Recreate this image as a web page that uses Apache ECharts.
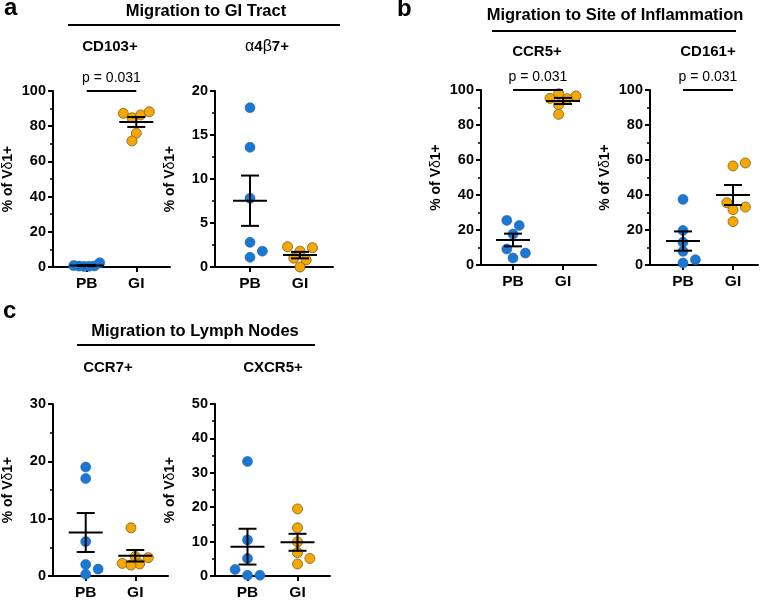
<!DOCTYPE html>
<html>
<head>
<meta charset="utf-8">
<script src="https://cdn.jsdelivr.net/npm/echarts@6/dist/echarts.min.js"></script>
<style>
  html, body { margin: 0; padding: 0; background: #fff; }
  #chart { width: 763px; height: 601px; }
</style>
</head>
<body>
<div id="chart"></div>
<script>
// values (% of Vd1+ cells, one value per donor)
const groups = ['PB', 'GI'];
const cd103PB = [0.3, 0.5, 0.6, 0.8, 0.4, 2.4];
const cd103GI = [87.3, 84.8, 86.4, 88.2, 76.0, 71.6];
const a4b7PB = [18.1, 13.6, 7.8, 2.8, 1.8, 1.1];
const a4b7GI = [2.2, 2.3, 1.8, 1.0, 0.8, 0.0];
const ccr5PB = [25.5, 22.6, 17.7, 9.1, 6.8, 4.0];
const ccr5GI = [96.6, 95.0, 95.2, 97.9, 91.6, 86.1];
const cd161PB = [37.5, 19.7, 13.0, 7.8, 3.0, 1.1];
const cd161GI = [58.3, 56.6, 35.6, 31.6, 33.1, 24.8];
const ccr7PB = [19.0, 17.0, 6.0, 2.0, 1.2, 0.3];
const ccr7GI = [8.4, 3.4, 3.2, 2.1, 2.2, 1.9];
const cxcr5PB = [33.3, 10.5, 5.1, 1.9, 0.2, 0.2];
const cxcr5GI = [19.5, 14.0, 9.9, 6.8, 5.1, 3.5];

const markers = ['CD103+', '{g|α}4{g|β}7+', 'CCR5+', 'CD161+', 'CCR7+', 'CXCR5+'];
const yMax = [100, 20, 100, 100, 30, 50];
const yStep = [20, 5, 20, 20, 10, 10];
const pValues = ['p = 0.031', null, 'p = 0.031', 'p = 0.031', null, null];
const pbSets = [cd103PB, a4b7PB, ccr5PB, cd161PB, ccr7PB, cxcr5PB];
const giSets = [cd103GI, a4b7GI, ccr5GI, cd161GI, ccr7GI, cxcr5GI];

// panel placement
const panels = [
  { left: 52, top: 91, width: 118, height: 176, xMin: 0.32, tx: 110, ty: 47 },
  { left: 215, top: 91, width: 118, height: 176, xMin: 0.30, tx: 267, ty: 47 },
  { left: 481, top: 90, width: 115, height: 175, xMin: 0.36, tx: 537, ty: 52 },
  { left: 650, top: 90, width: 108, height: 175, xMin: 0.34, tx: 708, ty: 52 },
  { left: 52, top: 404, width: 116, height: 174, xMin: 0.34, tx: 108, ty: 368 },
  { left: 215, top: 404, width: 115, height: 174, xMin: 0.35, tx: 273, ty: 368 }
];

const FONT = '"Liberation Sans", Arial, Helvetica, sans-serif';
const BLUE = '#1a78d2';
const ORANGE = '#f6a800';

function meanSem(a) {
  const n = a.length;
  const m = a.reduce((s, v) => s + v, 0) / n;
  const sd = Math.sqrt(a.reduce((s, v) => s + (v - m) * (v - m), 0) / (n - 1));
  return [m, sd / Math.sqrt(n)];
}

// simple beeswarm: horizontal pixel offsets so dots don't pile up
function swarm(vals, pxPerUnit) {
  const order = vals.map((v, i) => i).sort((a, b) => vals[a] - vals[b]);
  const placed = [];
  const dx = vals.map(() => 0);
  const step = 6.2, minD = 9;
  order.forEach(i => {
    const y = vals[i] * pxPerUnit;
    for (let k = 0; k < 40; k++) {
      const off = k === 0 ? 0 : (k % 2 ? 1 : -1) * Math.ceil(k / 2) * step;
      if (placed.every(p => Math.hypot(p.x - off, p.y - y) >= minD)) {
        dx[i] = off;
        placed.push({ x: off, y: y });
        break;
      }
    }
  });
  const lo = Math.min(...dx), hi = Math.max(...dx);
  if (hi - lo > 26) {
    const s = 26 / (hi - lo), mid = (hi + lo) / 2;
    return dx.map(d => (d - mid) * s);
  }
  return dx;
}

const grid = [], xAxis = [], yAxis = [], series = [];
const graphic = [];

panels.forEach((p, i) => {
  grid.push({ left: p.left, top: p.top, width: p.width, height: p.height });
  xAxis.push({
    type: 'value', gridIndex: i,
    min: p.xMin, max: p.xMin + p.width / 50,
    splitLine: { show: false },
    axisLine: { show: true, onZero: false, lineStyle: { color: '#000', width: 2 } },
    axisTick: { show: true, customValues: [1, 2], length: 5, lineStyle: { color: '#000', width: 2 } },
    axisLabel: {
      show: true, customValues: [1, 2], margin: 9,
      formatter: v => groups[Math.round(v) - 1],
      color: '#000', fontWeight: 'bold', fontSize: 15.5, fontFamily: FONT
    }
  });
  yAxis.push({
    type: 'value', gridIndex: i,
    min: 0, max: yMax[i], interval: yStep[i],
    name: '% of V{d|δ}1+', nameLocation: 'middle', nameGap: 38,
    nameTextStyle: {
      color: '#000', fontWeight: 'bold', fontSize: 14, fontFamily: FONT,
      rich: { d: { fontWeight: 'normal', fontSize: 14, fontFamily: FONT } }
    },
    splitLine: { show: false },
    axisLine: { show: true, onZero: false, lineStyle: { color: '#000', width: 2 } },
    axisTick: { show: true, length: 5, lineStyle: { color: '#000', width: 2 } },
    minorTick: { show: true, splitNumber: 2, length: 3, lineStyle: { color: '#000', width: 1.5 } },
    axisLabel: { margin: 7, color: '#000', fontWeight: 'bold', fontSize: 14.5, fontFamily: FONT }
  });

  const pxPerUnit = p.height / yMax[i];
  [pbSets[i], giSets[i]].forEach((vals, g) => {
    const dx = swarm(vals, pxPerUnit);
    series.push({
      type: 'scatter', xAxisIndex: i, yAxisIndex: i,
      symbolSize: 10,
      itemStyle: g === 0
        ? { color: BLUE, borderColor: '#2a62a8', borderWidth: 0.6, opacity: 1 }
        : { color: ORANGE, borderColor: '#86692c', borderWidth: 0.9, opacity: 1 },
      data: vals.map((v, k) => ({ value: [g + 1, v], symbolOffset: [dx[k], 0] })),
      z: 2
    });
  });

  const stats = [pbSets[i], giSets[i]].map((vals, g) => {
    const ms = meanSem(vals);
    return [g + 1, ms[0], ms[0] - ms[1], ms[0] + ms[1]];
  });
  const errSeries = {
    type: 'custom', xAxisIndex: i, yAxisIndex: i, z: 5,
    clip: false,
    data: stats,
    renderItem: (params, api) => {
      const x = api.value(0);
      const c = api.coord([x, api.value(1)]);
      const lo = api.coord([x, api.value(2)]);
      const hi = api.coord([x, api.value(3)]);
      const style = { stroke: '#000', lineWidth: 2, fill: null };
      return {
        type: 'group',
        children: [
          { type: 'line', shape: { x1: c[0] - 17, y1: c[1], x2: c[0] + 17, y2: c[1] }, style },
          { type: 'line', shape: { x1: c[0], y1: lo[1], x2: c[0], y2: hi[1] }, style },
          { type: 'line', shape: { x1: c[0] - 9, y1: lo[1], x2: c[0] + 9, y2: lo[1] }, style },
          { type: 'line', shape: { x1: c[0] - 9, y1: hi[1], x2: c[0] + 9, y2: hi[1] }, style }
        ]
      };
    }
  };
  if (pValues[i]) {
    errSeries.markLine = {
      silent: true, symbol: 'none', animation: false,
      lineStyle: { color: '#000', width: 2, type: 'solid' },
      label: {
        show: true, position: 'insideMiddleTop', distance: 6,
        formatter: pValues[i], color: '#000', fontSize: 14, fontFamily: FONT
      },
      data: [[{ coord: [1, yMax[i]] }, { coord: [2, yMax[i]] }]]
    };
  }
  series.push(errSeries);

  graphic.push({
    type: 'text', x: p.tx, y: p.ty,
    style: {
      text: markers[i], fill: '#000', fontSize: 15, fontWeight: 'bold', fontFamily: FONT,
      align: 'center', verticalAlign: 'middle',
      rich: { g: { fontSize: 16, fontWeight: 'normal', fontFamily: FONT } }
    }
  });
});

// panel letters, group headers and their rules
const letterStyle = (t) => ({ text: t, fill: '#000', fontSize: 24, fontWeight: 'bold', fontFamily: FONT, align: 'left', verticalAlign: 'middle' });
const headStyle = (t) => ({ text: t, fill: '#000', fontSize: 16.5, fontWeight: 'bold', fontFamily: FONT, align: 'center', verticalAlign: 'middle' });
graphic.push(
  { type: 'text', x: 4, y: 8, style: letterStyle('a') },
  { type: 'text', x: 397, y: 9, style: letterStyle('b') },
  { type: 'text', x: 3, y: 311, style: letterStyle('c') },
  { type: 'text', x: 206, y: 11, style: headStyle('Migration to GI Tract') },
  { type: 'text', x: 615, y: 15, style: headStyle('Migration to Site of Inflammation') },
  { type: 'text', x: 195, y: 331, style: headStyle('Migration to Lymph Nodes') },
  { type: 'line', shape: { x1: 68, y1: 25, x2: 340, y2: 25 }, style: { stroke: '#000', lineWidth: 1.8 } },
  { type: 'line', shape: { x1: 492, y1: 31, x2: 736, y2: 31 }, style: { stroke: '#000', lineWidth: 1.8 } },
  { type: 'line', shape: { x1: 77, y1: 345, x2: 315, y2: 345 }, style: { stroke: '#000', lineWidth: 1.8 } }
);

const chart = echarts.init(document.getElementById('chart'), null, { renderer: 'canvas', devicePixelRatio: 1 });
chart.setOption({
  backgroundColor: '#fff',
  animation: false,
  grid: grid,
  xAxis: xAxis,
  yAxis: yAxis,
  series: series,
  graphic: graphic
});
</script>
</body>
</html>
